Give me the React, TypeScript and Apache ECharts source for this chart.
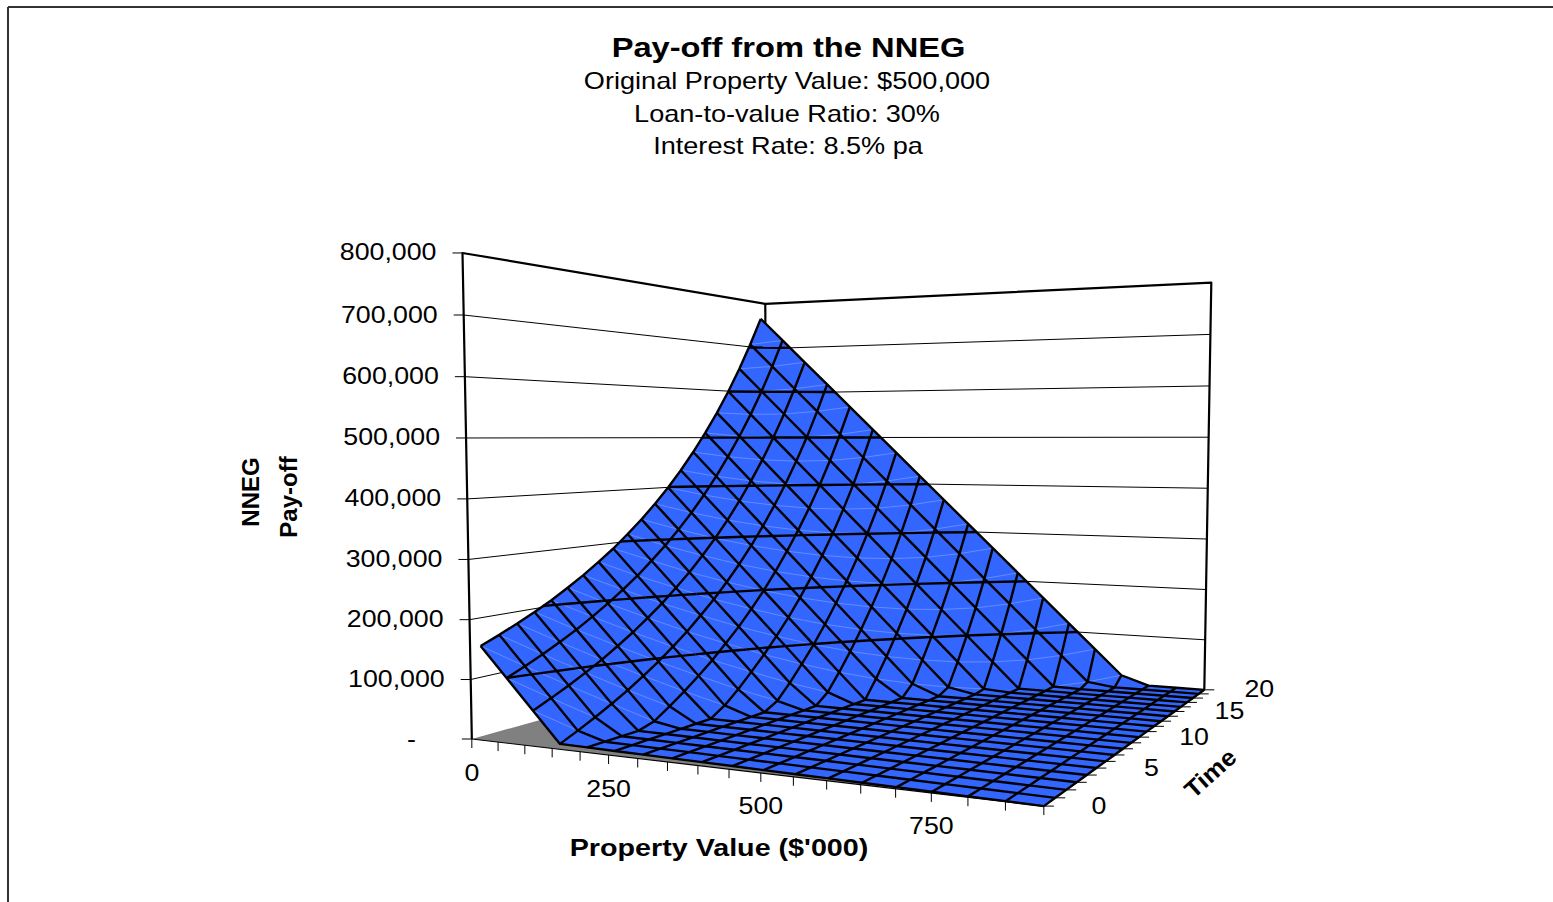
import React, { useEffect, useRef } from "react";
import * as echarts from "echarts";

// Property values in $'000 and time steps in years.
const propertyValues = [0, 50, 100, 150, 200, 250, 300, 350, 400, 450, 500, 550, 600, 650, 700, 750, 800, 850, 900];
const timeSteps = [0, 1, 2, 3, 4, 5, 6, 7, 8, 9, 10, 11, 12, 13, 14, 15, 16, 17, 18, 19, 20];

// NNEG pay-off in $'000: one row per time step, one column per property value.
const payoffByTime = [
  [150, 100, 50, 0, 0, 0, 0, 0, 0, 0, 0, 0, 0, 0, 0, 0, 0, 0, 0],
  [163, 113, 63, 13, 0, 0, 0, 0, 0, 0, 0, 0, 0, 0, 0, 0, 0, 0, 0],
  [177, 127, 77, 27, 0, 0, 0, 0, 0, 0, 0, 0, 0, 0, 0, 0, 0, 0, 0],
  [192, 142, 92, 42, 0, 0, 0, 0, 0, 0, 0, 0, 0, 0, 0, 0, 0, 0, 0],
  [208, 158, 108, 58, 8, 0, 0, 0, 0, 0, 0, 0, 0, 0, 0, 0, 0, 0, 0],
  [226, 176, 126, 76, 26, 0, 0, 0, 0, 0, 0, 0, 0, 0, 0, 0, 0, 0, 0],
  [245, 195, 145, 95, 45, 0, 0, 0, 0, 0, 0, 0, 0, 0, 0, 0, 0, 0, 0],
  [266, 216, 166, 116, 66, 16, 0, 0, 0, 0, 0, 0, 0, 0, 0, 0, 0, 0, 0],
  [288, 238, 188, 138, 88, 38, 0, 0, 0, 0, 0, 0, 0, 0, 0, 0, 0, 0, 0],
  [313, 263, 213, 163, 113, 63, 13, 0, 0, 0, 0, 0, 0, 0, 0, 0, 0, 0, 0],
  [339, 289, 239, 189, 139, 89, 39, 0, 0, 0, 0, 0, 0, 0, 0, 0, 0, 0, 0],
  [368, 318, 268, 218, 168, 118, 68, 18, 0, 0, 0, 0, 0, 0, 0, 0, 0, 0, 0],
  [399, 349, 299, 249, 199, 149, 99, 49, 0, 0, 0, 0, 0, 0, 0, 0, 0, 0, 0],
  [433, 383, 333, 283, 233, 183, 133, 83, 33, 0, 0, 0, 0, 0, 0, 0, 0, 0, 0],
  [470, 420, 370, 320, 270, 220, 170, 120, 70, 20, 0, 0, 0, 0, 0, 0, 0, 0, 0],
  [510, 460, 410, 360, 310, 260, 210, 160, 110, 60, 10, 0, 0, 0, 0, 0, 0, 0, 0],
  [553, 503, 453, 403, 353, 303, 253, 203, 153, 103, 53, 3, 0, 0, 0, 0, 0, 0, 0],
  [600, 550, 500, 450, 400, 350, 300, 250, 200, 150, 100, 50, 0, 0, 0, 0, 0, 0, 0],
  [651, 601, 551, 501, 451, 401, 351, 301, 251, 201, 151, 101, 51, 1, 0, 0, 0, 0, 0],
  [707, 657, 607, 557, 507, 457, 407, 357, 307, 257, 207, 157, 107, 57, 7, 0, 0, 0, 0],
  [767, 717, 667, 617, 567, 517, 467, 417, 367, 317, 267, 217, 167, 117, 67, 17, 0, 0, 0],
];

const payoffTicks = [0, 100, 200, 300, 400, 500, 600, 700, 800];
const payoffTickLabels = ["-", "100,000", "200,000", "300,000", "400,000", "500,000", "600,000", "700,000", "800,000"];
const contourLevels = [100, 200, 300, 400, 500, 600, 700];
const propertyLabels = [0, 250, 500, 750];
const timeLabels = [0, 5, 10, 15, 20];
const subtitleLines = ["Original Property Value: $500,000", "Loan-to-value Ratio: 30%", "Interest Rate: 8.5% pa"];

const PAYOFF_MAX = 800;
const SURFACE_COLOR = "#3366FF";
const FLOOR_COLOR = "#808080";
const FONT = '"Liberation Sans", Arial, sans-serif';

// Screen anchors of the 3D box: [u along property, v along time, w along pay-off, screen x, screen y].
const boxAnchors = [
  [0, 0, 0, 472, 737],
  [1, 0, 0, 1046, 807],
  [1, 1, 0, 1203, 688],
  [0, 1, 0, 768, 660],
  [0, 0, 1, 463, 255],
  [1, 1, 1, 1212, 283],
  [0, 1, 1, 765, 302],
  [0.2778, 0, 0, 608, 755],
  [0.5556, 0, 0, 759, 773],
  [0.8333, 0, 0, 932, 795],
  [0, 0, 0.125, 471, 677],
  [0, 0, 0.625, 465, 438],
  [1, 1, 0.125, 1205, 639],
  [1, 1, 0.5, 1208, 488],
  [1, 1, 0.875, 1210, 335],
];

// Least-squares solution of the homogeneous camera matrix through the box anchors.
function solveCamera(anchors: number[][]) {
  const n = 11;
  const ata = Array.from({ length: n }, () => new Array(n + 1).fill(0));
  const addRow = (row: number[], rhs: number) => {
    for (let i = 0; i < n; i++) {
      for (let j = 0; j < n; j++) ata[i][j] += row[i] * row[j];
      ata[i][n] += row[i] * rhs;
    }
  };
  anchors.forEach(([u, v, w, sx, sy]) => {
    const px = sx / 1000;
    const py = sy / 1000;
    addRow([u, v, w, 1, 0, 0, 0, 0, -px * u, -px * v, -px * w], px);
    addRow([0, 0, 0, 0, u, v, w, 1, -py * u, -py * v, -py * w], py);
  });
  for (let c = 0; c < n; c++) {
    let pivot = c;
    for (let r = c + 1; r < n; r++) if (Math.abs(ata[r][c]) > Math.abs(ata[pivot][c])) pivot = r;
    [ata[c], ata[pivot]] = [ata[pivot], ata[c]];
    for (let r = 0; r < n; r++) {
      if (r === c) continue;
      const f = ata[r][c] / ata[c][c];
      for (let k = c; k <= n; k++) ata[r][k] -= f * ata[c][k];
    }
  }
  return ata.map((row, i) => row[n] / row[i]);
}

const cam = solveCamera(boxAnchors);

function project(u: number, v: number, w: number): number[] {
  const d = cam[8] * u + cam[9] * v + cam[10] * w + 1;
  return [
    (1000 * (cam[0] * u + cam[1] * v + cam[2] * w + cam[3])) / d,
    (1000 * (cam[4] * u + cam[5] * v + cam[6] * w + cam[7])) / d,
  ];
}

const lastX = propertyValues.length - 1;
const lastT = timeSteps.length - 1;

// The surface sits slightly off the box at its low-property end.
const SURFACE_INSET_TIME = 0.04;
const SURFACE_SHIFT_PROPERTY = 0.012;
function surfacePoint(ti: number, xi: number, z: number): number[] {
  const u = xi / lastX;
  const v = ti / lastT;
  return project(
    u - SURFACE_SHIFT_PROPERTY * (1 - u),
    v + SURFACE_INSET_TIME * (1 - v) * (1 - u),
    z / PAYOFF_MAX,
  );
}

const line = (points: number[][], stroke: string, lineWidth: number, opacity = 1) => ({
  type: "polyline",
  shape: { points },
  silent: true,
  style: { stroke, lineWidth, fill: "none", opacity, lineJoin: "round" },
});

function renderBox() {
  const children: any[] = [];
  children.push({
    type: "polygon",
    shape: { points: [project(0, 0, 0), project(1, 0, 0), project(1, 1, 0), project(0, 1, 0)] },
    style: { fill: FLOOR_COLOR, stroke: "none" },
  });
  payoffTicks.forEach((tick) => {
    const w = tick / PAYOFF_MAX;
    const a = project(0, 0, w);
    const pts = [a, project(0, 1, w), project(1, 1, w)];
    children.push(line([[a[0] - 10, a[1]], a], "#000", 1));
    if (tick > 0 && tick < PAYOFF_MAX) children.push(line(pts, "#000", 1));
  });
  children.push(line([project(0, 0, 0), project(0, 0, 1), project(0, 1, 1), project(1, 1, 1), project(1, 1, 0)], "#000", 2.2));
  children.push(line([project(0, 1, 0), project(0, 1, 1)], "#000", 2.2));
  children.push(line([project(0, 0, 0), project(1, 0, 0), project(1, 1, 0)], "#000", 1.2));
  propertyValues.forEach((_, i) => {
    const p = project(i / lastX, 0, 0);
    children.push(line([p, [p[0], p[1] + 9]], "#000", 1));
  });
  timeSteps.forEach((_, i) => {
    const p = project(1, i / lastT, 0);
    children.push(line([p, [p[0] + 10, p[1]]], "#000", 1));
  });
  return { type: "group", children };
}

const cellData: number[][] = [];
for (let t = lastT - 1; t >= 0; t--) for (let x = 0; x < lastX; x++) cellData.push([t, x]);

function renderCell(_: any, api: any) {
  const t = api.value(0);
  const x = api.value(1);
  const z = (a: number, b: number) => payoffByTime[a][b];
  const p00 = surfacePoint(t, x, z(t, x));
  const p01 = surfacePoint(t, x + 1, z(t, x + 1));
  const p11 = surfacePoint(t + 1, x + 1, z(t + 1, x + 1));
  const p10 = surfacePoint(t + 1, x, z(t + 1, x));
  const children: any[] = [
    {
      type: "polygon",
      shape: { points: [p00, p01, p11, p10] },
      style: { fill: SURFACE_COLOR, stroke: SURFACE_COLOR, lineWidth: 0.5 },
    },
  ];
  if (z(t, x) > 0 && z(t + 1, x + 1) > 0) children.push(line([p00, p11], "#fff", 0.8, 0.3));
  return { type: "group", children };
}

const meshData: number[][] = [];
timeSteps.forEach((_, t) => meshData.push([0, t]));
propertyValues.forEach((_, x) => meshData.push([1, x]));

function renderMeshLine(_: any, api: any) {
  const alongProperty = api.value(0) === 0;
  const idx = api.value(1);
  const points = alongProperty
    ? propertyValues.map((__, x) => surfacePoint(idx, x, payoffByTime[idx][x]))
    : timeSteps.map((__, t) => surfacePoint(t, idx, payoffByTime[t][idx]));
  return line(points, "#000", 2.4);
}

// Iso-payoff segments: each cell is split along its diagonal into two triangles.
function renderContours(_: any, api: any) {
  const t = api.value(0);
  const x = api.value(1);
  const corners = [
    [t, x],
    [t, x + 1],
    [t + 1, x + 1],
    [t + 1, x],
  ];
  const children: any[] = [];
  const triangles = [
    [corners[0], corners[1], corners[2]],
    [corners[0], corners[2], corners[3]],
  ];
  contourLevels.forEach((level) => {
    triangles.forEach((tri) => {
      const hits: number[][] = [];
      for (let i = 0; i < 3; i++) {
        const a = tri[i];
        const b = tri[(i + 1) % 3];
        const za = payoffByTime[a[0]][a[1]];
        const zb = payoffByTime[b[0]][b[1]];
        if (za < level !== zb < level) {
          const f = (level - za) / (zb - za);
          hits.push(surfacePoint(a[0] + (b[0] - a[0]) * f, a[1] + (b[1] - a[1]) * f, level));
        }
      }
      if (hits.length === 2) children.push(line(hits, "#000", 2.4));
    });
  });
  return { type: "group", children };
}

function buildTexts() {
  const text = (
    content: string,
    x: number,
    y: number,
    size: number,
    weight: string,
    align: string,
    extra: Record<string, unknown> = {},
  ) => ({
    type: "text",
    x,
    y,
    silent: true,
    ...extra,
    style: {
      text: content,
      fill: "#000",
      font: `${weight} ${size}px ${FONT}`,
      textAlign: align,
      textVerticalAlign: "middle",
    },
  });
  const wide = { scaleX: 1.115 };
  const els: any[] = [];
  els.push(text("Pay-off from the NNEG", 788.5, 47, 28, "bold", "center", { scaleX: 1.167 }));
  subtitleLines.forEach((s, i) =>
    els.push(text(s, 787 + (i === 2 ? 1 : 0), 81 + i * 32.5, 24, "normal", "center", { scaleX: 1.13 })),
  );
  payoffTickLabels.forEach((s, i) => {
    const p = project(0, 0, payoffTicks[i] / PAYOFF_MAX);
    // The zero label keeps the accounting format's padding, so it sits further out.
    const right = payoffTicks[i] === 0 ? p[0] - 56 : p[0] - 26;
    els.push(text(s, right, p[1] - 1, 24, "normal", "right", wide));
  });
  propertyLabels.forEach((v) => {
    const p = project(propertyValues.indexOf(v) / lastX, 0, 0);
    els.push(text(String(v), p[0], p[1] + 33, 24, "normal", "center", wide));
  });
  timeLabels.forEach((v) => {
    const p = project(1, timeSteps.indexOf(v) / lastT, 0);
    els.push(text(String(v), p[0] + 55, p[1] - 1, 24, "normal", "center", wide));
  });
  els.push(text("Property Value ($'000)", 719, 848, 24, "bold", "center", { scaleX: 1.196 }));
  els.push(text("Time", 1210, 773, 24, "bold", "center", { rotation: 0.73, scaleX: 1.08 }));
  els.push(text("NNEG", 250, 492, 24, "bold", "center", { rotation: Math.PI / 2 }));
  els.push(text("Pay-off", 288, 497, 24, "bold", "center", { rotation: Math.PI / 2 }));
  // Chart-area frame along the top and left of the page.
  els.push({ type: "line", shape: { x1: 8, y1: 7, x2: 1553, y2: 7 }, style: { stroke: "#333", lineWidth: 2 } });
  els.push({ type: "line", shape: { x1: 8, y1: 7, x2: 8, y2: 902 }, style: { stroke: "#333", lineWidth: 2 } });
  return els;
}

export default function App() {
  const ref = useRef<HTMLDivElement>(null);
  useEffect(() => {
    document.body.style.margin = "0";
    const chart = echarts.init(ref.current!, undefined, { renderer: "svg" });
    chart.setOption({
      animation: false,
      backgroundColor: "#fff",
      tooltip: { show: false },
      graphic: { elements: buildTexts() },
      series: [
        { type: "custom", coordinateSystem: "none", silent: true, data: [[0]], renderItem: renderBox, z: 1 },
        { type: "custom", coordinateSystem: "none", silent: true, data: cellData, renderItem: renderCell, z: 2 },
        { type: "custom", coordinateSystem: "none", silent: true, data: meshData, renderItem: renderMeshLine, z: 3 },
        { type: "custom", coordinateSystem: "none", silent: true, data: cellData, renderItem: renderContours, z: 4 },
      ],
    });
    return () => chart.dispose();
  }, []);
  return <div ref={ref} style={{ position: "absolute", left: 0, top: 0, width: 1553, height: 902, overflow: "hidden" }} />;
}
